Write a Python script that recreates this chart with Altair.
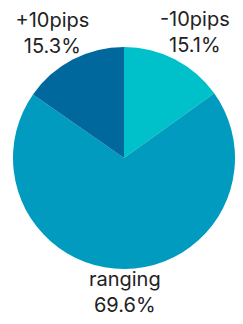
import altair as alt
import pandas as pd

categories = ["-10pips", "ranging", "+10pips"]
shares = [15.1, 69.6, 15.3]
labels = ["15.1%", "69.6%", "15.3%"]
colors = ["#00C1CA", "#009BBF", "#00689C"]

df = pd.DataFrame({
    "cat": categories,
    "share": shares,
    "pct": labels,
    "order": list(range(len(categories))),
})
df["label"] = df["cat"] + "\n" + df["pct"]

pie = alt.Chart(df).mark_arc(outerRadius=111, stroke=None).encode(
    theta=alt.Theta("share:Q", stack=True),
    order=alt.Order("order:Q"),
    color=alt.Color("cat:N", scale=alt.Scale(domain=categories, range=colors), legend=None),
)

# label angle = middle of each slice, computed from the same data
lab = alt.Chart(df).transform_joinaggregate(
    total="sum(share)"
).transform_window(
    cum="sum(share)", sort=[alt.SortField("order")]
).transform_calculate(
    ang="(datum.cum - datum.share / 2) / datum.total * 2 * PI"
)

text_style = dict(fontSize=20, font="Inter", color="#222222",
                  lineBreak="\n", lineHeight=26, align="center", baseline="middle")

text_small = lab.transform_filter(alt.datum.share < 50).mark_text(
    radius=155, **text_style
).encode(theta=alt.Theta("ang:Q", scale=None), text="label:N")

text_big = lab.transform_filter(alt.datum.share >= 50).mark_text(
    radius=122, **text_style
).encode(theta=alt.Theta("ang:Q", scale=None), text="label:N")

chart = (pie + text_small + text_big).properties(
    width=222, height=300,
    padding={"left": 5, "top": 0, "right": 0, "bottom": 8},
    autosize=alt.AutoSizeParams(type="none"),
).configure_view(stroke=None)

chart.save("out.html", embed_options={"renderer": "svg", "actions": False})
